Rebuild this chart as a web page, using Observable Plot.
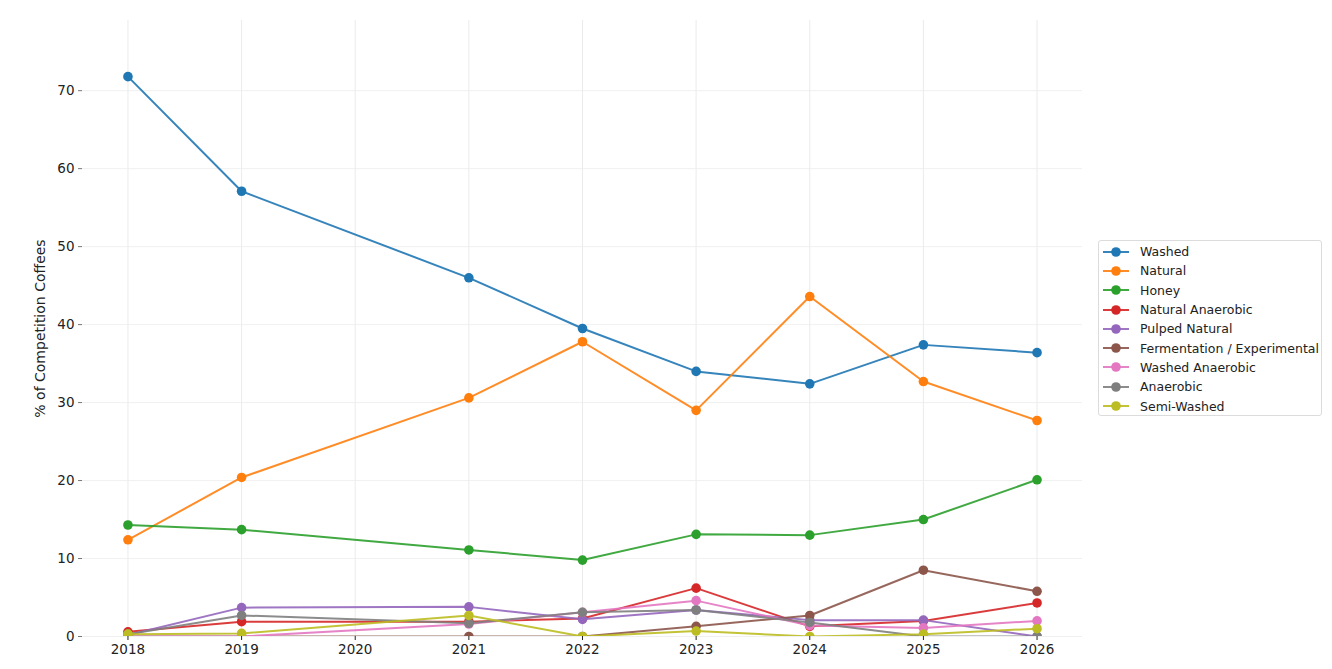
<!DOCTYPE html>
<html>
<head>
<meta charset="utf-8">
<script src="https://cdn.jsdelivr.net/npm/d3@7"></script>
<script src="https://cdn.jsdelivr.net/npm/@observablehq/plot@0.6"></script>
<style>
  html, body { margin: 0; padding: 0; background: #fff; }
  #wrap { position: relative; width: 1332px; height: 669px; font-family: "DejaVu Sans", sans-serif; }
  #legend { position: absolute; left: 1098px; top: 240px; width: 224px; height: 176px; border: 1px solid #dcdcdc; border-radius: 3px; background: #fff; box-sizing: border-box; padding-top: 1px; }
  .row { height: 19.3px; display: flex; align-items: center; font-size: 12.5px; color: #222; }
  .row svg { margin-left: 3px; margin-right: 10px; }
</style>
</head>
<body>
<div id="wrap"><div id="chart"></div><div id="legend"></div></div>
<script>
const years = [2018, 2019, 2021, 2022, 2023, 2024, 2025, 2026];
const seriesNames = ["Washed", "Natural", "Honey", "Natural Anaerobic", "Pulped Natural", "Fermentation / Experimental", "Washed Anaerobic", "Anaerobic", "Semi-Washed"];
const colors = ["#1f77b4", "#ff7f0e", "#2ca02c", "#d62728", "#9467bd", "#8c564b", "#e377c2", "#7f7f7f", "#bcbd22"];
const washed = [71.8, 57.1, 46.0, 39.5, 34.0, 32.4, 37.4, 36.4];
const natural = [12.4, 20.4, 30.6, 37.8, 29.0, 43.6, 32.7, 27.7];
const honey = [14.3, 13.7, 11.1, 9.8, 13.1, 13.0, 15.0, 20.1];
const naturalAnaerobic = [0.6, 1.9, 1.9, 2.3, 6.2, 1.3, 2.0, 4.3];
const pulpedNatural = [0.2, 3.7, 3.8, 2.2, 3.4, 2.1, 2.1, 0.0];
const fermentation = [0.0, 0.0, 0.0, 0.0, 1.3, 2.7, 8.5, 5.8];
const washedAnaerobic = [0.0, 0.0, 1.6, 3.1, 4.6, 1.4, 1.1, 2.0];
const anaerobic = [0.3, 2.7, 1.7, 3.1, 3.4, 1.8, 0.0, 0.0];
const semiWashed = [0.3, 0.4, 2.7, 0.0, 0.7, 0.0, 0.3, 1.0];
const seriesValues = [washed, natural, honey, naturalAnaerobic, pulpedNatural, fermentation, washedAnaerobic, anaerobic, semiWashed];
const xTicks = [2018, 2019, 2020, 2021, 2022, 2023, 2024, 2025, 2026];
const yTicks = [0, 10, 20, 30, 40, 50, 60, 70];

const marks = [
  Plot.gridX(xTicks, {stroke: "#e6e6e6", strokeOpacity: 1, strokeWidth: 0.8}),
  Plot.gridY(yTicks, {stroke: "#ececec", strokeOpacity: 1, strokeWidth: 0.8}),
  Plot.axisX(xTicks, {tickFormat: d => String(d), tickSize: 4, stroke: "#222", fontSize: 13.5, tickPadding: 4, fill: "#222", label: null}),
  Plot.axisY(yTicks, {tickSize: 4, stroke: "#777", fontSize: 13.5, tickPadding: 4, fill: "#222", label: null})
];
seriesValues.forEach((vals, i) => {
  const data = years.map((y, j) => ({year: y, value: vals[j]}));
  marks.push(Plot.line(data, {x: "year", y: "value", stroke: colors[i], strokeWidth: 2, strokeOpacity: 0.9, clip: true}));
  marks.push(Plot.dot(data, {x: "year", y: "value", fill: colors[i], r: 4.8, clip: true}));
});
marks.push(Plot.text(["% of Competition Coffees"], {frameAnchor: "left", textAnchor: "middle", dx: -42, rotate: -90, fontSize: 14, fill: "#222"}));

const chart = Plot.plot({
  width: 1332,
  height: 669,
  marginLeft: 82,
  marginRight: 250,
  marginTop: 20,
  marginBottom: 33,
  style: {fontFamily: "DejaVu Sans, sans-serif", background: "#fff"},
  x: {domain: [2017.6, 2026.4]},
  y: {domain: [0, 79]},
  marks
});
document.getElementById("chart").appendChild(chart);

const legend = document.getElementById("legend");
seriesNames.forEach((name, i) => {
  const row = document.createElement("div");
  row.className = "row";
  row.innerHTML = `<svg width="28" height="12"><line x1="1" y1="6" x2="27" y2="6" stroke="${colors[i]}" stroke-width="2" stroke-opacity="0.9"/><circle cx="14" cy="6" r="4.8" fill="${colors[i]}"/></svg><span>${name}</span>`;
  legend.appendChild(row);
});
</script>
</body>
</html>
